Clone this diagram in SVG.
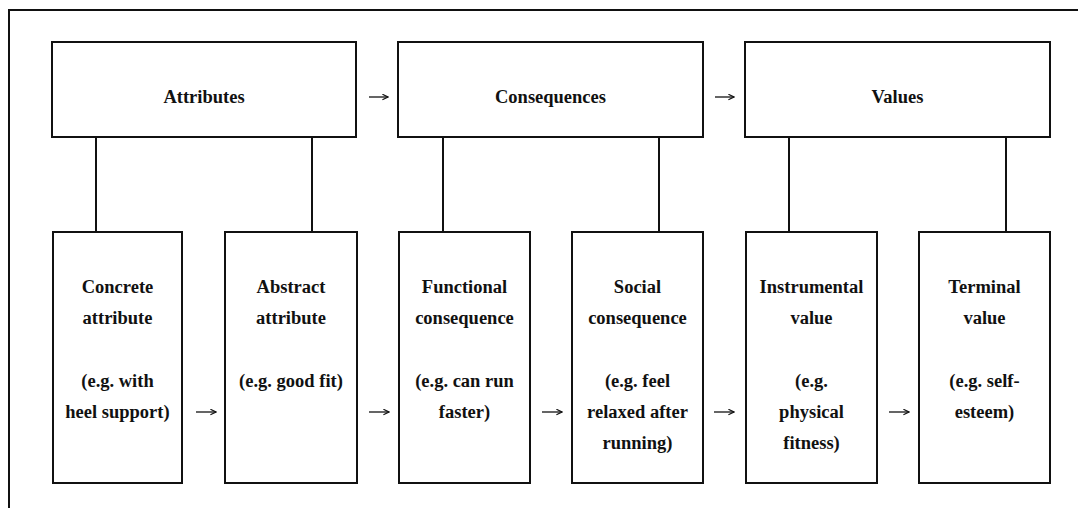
<svg xmlns="http://www.w3.org/2000/svg" width="1078" height="508" viewBox="0 0 1078 508">
  <style>
    .box { fill: #ffffff; stroke: #111111; stroke-width: 2; }
    .frame { fill: none; stroke: #111111; stroke-width: 2; }
    .link { fill: none; stroke: #111111; stroke-width: 2; }
    .flow { fill: none; stroke: #111111; stroke-width: 1.3; }
    .lbl { font-family: "Liberation Serif", "Times New Roman", serif; font-weight: bold; font-size: 18.5px; fill: #111111; text-anchor: middle; }
  </style>
  <defs>
    <marker id="head" viewBox="0 0 10 10" refX="9" refY="5" markerWidth="7" markerHeight="7" markerUnits="userSpaceOnUse" orient="auto">
      <path d="M1,1 L9,5 L1,9" fill="none" stroke="#111111" stroke-width="1.6"/>
    </marker>
  </defs>
  <rect width="1078" height="508" fill="#ffffff"/>

  <!-- outer frame: left and top edges -->
  <path class="frame" d="M9,508 L9,10 L1078,10"/>

  <!-- connectors -->
  <g id="connectors">
    <!-- vertical links from categories to sub-types -->
    <line class="link" x1="96" y1="137" x2="96" y2="232"/>
    <line class="link" x1="312" y1="137" x2="312" y2="232"/>
    <line class="link" x1="443" y1="137" x2="443" y2="232"/>
    <line class="link" x1="659" y1="137" x2="659" y2="232"/>
    <line class="link" x1="789" y1="137" x2="789" y2="232"/>
    <line class="link" x1="1006" y1="137" x2="1006" y2="232"/>
    <!-- arrows between top categories -->
    <line class="flow" x1="369" y1="97" x2="388" y2="97" marker-end="url(#head)"/>
    <line class="flow" x1="715" y1="97" x2="734" y2="97" marker-end="url(#head)"/>
    <!-- arrows along the chain -->
    <line class="flow" x1="196" y1="412" x2="216" y2="412" marker-end="url(#head)"/>
    <line class="flow" x1="369" y1="412" x2="389" y2="412" marker-end="url(#head)"/>
    <line class="flow" x1="542" y1="412" x2="562" y2="412" marker-end="url(#head)"/>
    <line class="flow" x1="714" y1="412" x2="734" y2="412" marker-end="url(#head)"/>
    <line class="flow" x1="889" y1="412" x2="909" y2="412" marker-end="url(#head)"/>
  </g>

  <!-- top level categories -->
  <g id="attributes">
    <rect class="box" x="52" y="42" width="304" height="95"/>
    <text class="lbl" x="204" y="103">Attributes</text>
  </g>
  <g id="consequences">
    <rect class="box" x="398" y="42" width="305" height="95"/>
    <text class="lbl" x="550.5" y="103">Consequences</text>
  </g>
  <g id="values">
    <rect class="box" x="745" y="42" width="305" height="95"/>
    <text class="lbl" x="897.5" y="103">Values</text>
  </g>

  <!-- sub-types -->
  <g id="concrete-attribute">
    <rect class="box" x="53" y="232" width="129" height="251"/>
    <text class="lbl" x="117.5" y="293">Concrete</text>
    <text class="lbl" x="117.5" y="324">attribute</text>
    <text class="lbl" x="117.5" y="387">(e.g. with</text>
    <text class="lbl" x="117.5" y="418">heel support)</text>
  </g>
  <g id="abstract-attribute">
    <rect class="box" x="225" y="232" width="132" height="251"/>
    <text class="lbl" x="291" y="293">Abstract</text>
    <text class="lbl" x="291" y="324">attribute</text>
    <text class="lbl" x="291" y="387">(e.g. good fit)</text>
  </g>
  <g id="functional-consequence">
    <rect class="box" x="399" y="232" width="131" height="251"/>
    <text class="lbl" x="464.5" y="293">Functional</text>
    <text class="lbl" x="464.5" y="324">consequence</text>
    <text class="lbl" x="464.5" y="387">(e.g. can run</text>
    <text class="lbl" x="464.5" y="418">faster)</text>
  </g>
  <g id="social-consequence">
    <rect class="box" x="572" y="232" width="131" height="251"/>
    <text class="lbl" x="637.5" y="293">Social</text>
    <text class="lbl" x="637.5" y="324">consequence</text>
    <text class="lbl" x="637.5" y="387">(e.g. feel</text>
    <text class="lbl" x="637.5" y="418">relaxed after</text>
    <text class="lbl" x="637.5" y="449">running)</text>
  </g>
  <g id="instrumental-value">
    <rect class="box" x="746" y="232" width="131" height="251"/>
    <text class="lbl" x="811.5" y="293">Instrumental</text>
    <text class="lbl" x="811.5" y="324">value</text>
    <text class="lbl" x="811.5" y="387">(e.g.</text>
    <text class="lbl" x="811.5" y="418">physical</text>
    <text class="lbl" x="811.5" y="449">fitness)</text>
  </g>
  <g id="terminal-value">
    <rect class="box" x="919" y="232" width="131" height="251"/>
    <text class="lbl" x="984.5" y="293">Terminal</text>
    <text class="lbl" x="984.5" y="324">value</text>
    <text class="lbl" x="984.5" y="387">(e.g. self-</text>
    <text class="lbl" x="984.5" y="418">esteem)</text>
  </g>
</svg>
